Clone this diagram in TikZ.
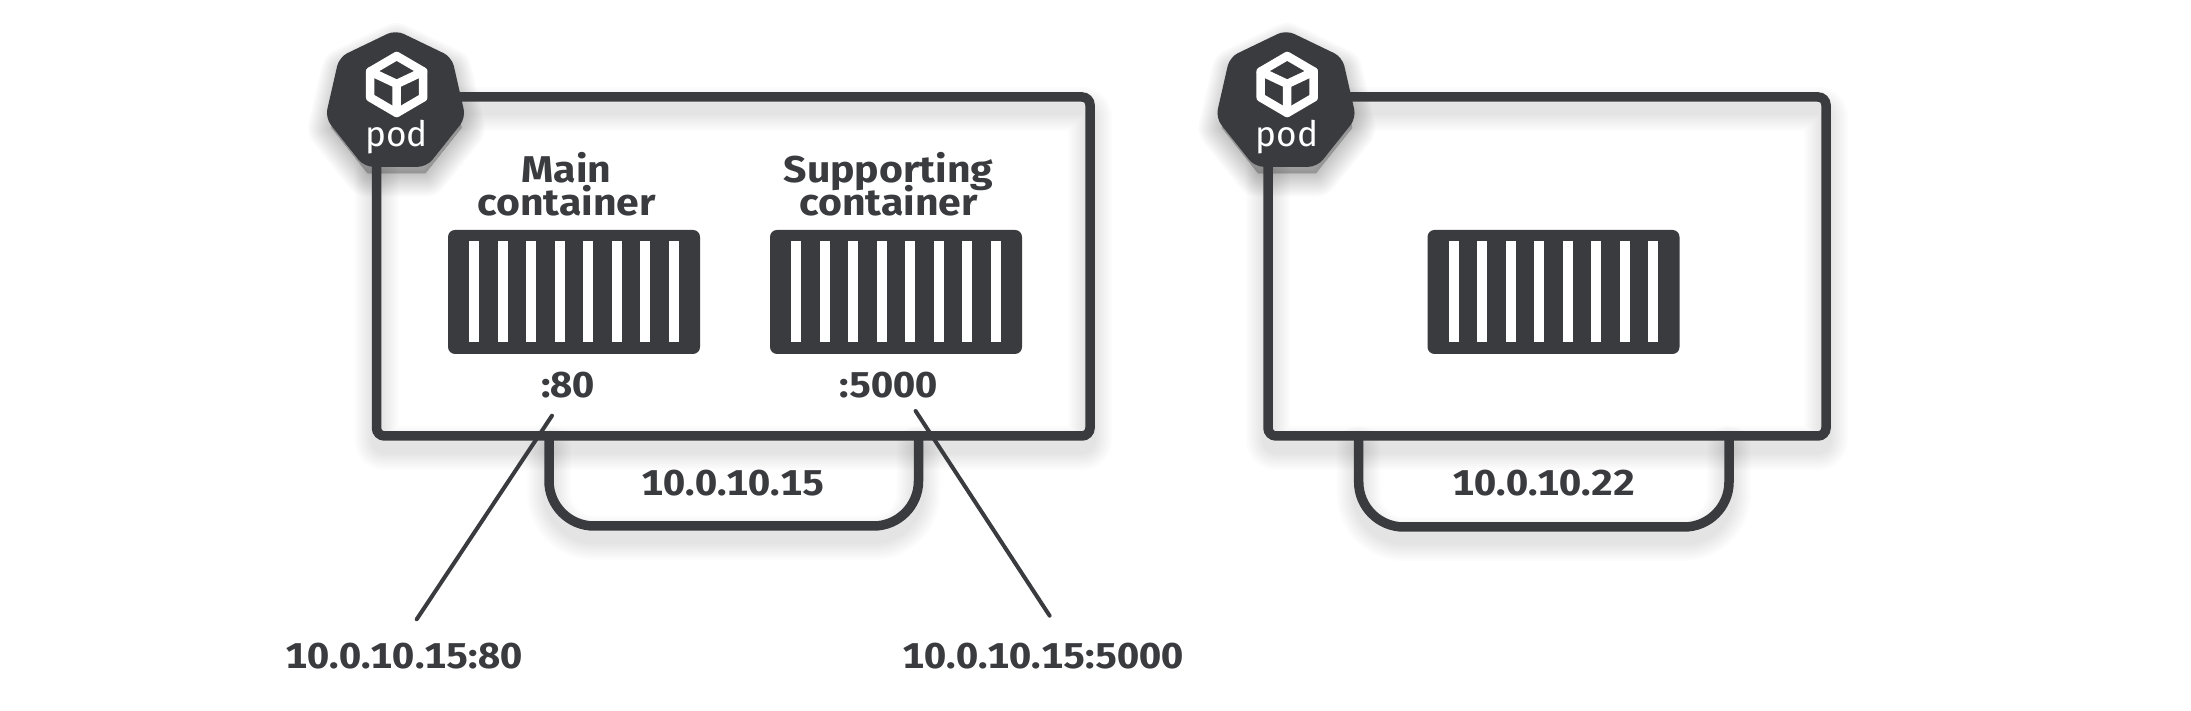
\documentclass[tikz,border=0pt]{standalone}
\usepackage{fontspec}
\setmainfont[Numbers=Monospaced]{Fira Sans}
\newfontfamily\widefont[FakeStretch=1.1,Numbers=Monospaced]{Fira Sans}
\usetikzlibrary{calc,shapes.geometric}
\definecolor{ink}{HTML}{3A3B3F}
\tikzset{
    boxline/.style={draw=ink, line width=.095cm},
    leader/.style={draw=ink, line width=.04cm, line cap=round},
    podbox/.style={boxline, rectangle, rounded corners=.08cm, inner sep=0pt, minimum height=3.39cm},
    podhept/.style={regular polygon, regular polygon sides=7, fill=ink, draw=none, rounded corners=.09cm, inner sep=0pt, minimum size=1.44cm},
    cubeline/.style={draw=white, line width=.085cm, line join=round, line cap=round},
    crate/.style={fill=ink, rectangle, rounded corners=.07cm, inner sep=0pt, minimum width=2.52cm, minimum height=1.24cm},
    stripe/.style={fill=white, rectangle, inner sep=0pt, minimum width=.096cm, minimum height=1.01cm},
    podname/.style={text=white, font=\fontsize{10}{10}\selectfont},
    addr/.style={text=ink, font=\widefont\fontsize{10.2}{10}\bfseries\selectfont, inner sep=0pt},
    heading/.style={addr, anchor=base, font=\widefont\fontsize{10.6}{10}\bfseries\selectfont},
}
% blurred strokes below a path
\newcommand{\softline}[1]{%
    \foreach \w in {.12,.16,.20,.24,.28,.32,.36,.40,.44}
        \draw[line width=\w cm, black, opacity=.011, line join=round, line cap=round, yshift=-.12cm] #1;
}
\newcommand{\softhept}[1]{%
    \foreach \w in {.02,.06,.10,.14,.18,.22,.26,.30,.34,.38,.42,.46}
        \node[regular polygon, regular polygon sides=7, draw=black, fill=black, line width=\w cm, opacity=.02, line join=round, inner sep=0pt, minimum size=1.34cm] at ($(#1)+(.01,-.11)$) {};
}
\begin{document}
\begin{tikzpicture}
    \useasboundingbox (0,0) rectangle (21.91,7.11);
    \fill[white] (0,0) rectangle (21.91,7.11);

    % shadows
    \softline{[rounded corners=.08cm] (3.765,2.75) rectangle (10.90,6.14)}
    \softline{[rounded corners=.08cm] (12.68,2.75) rectangle (18.26,6.14)}
    \softline{[rounded corners=.45cm] (5.49,2.75) -- (5.49,1.85) -- (9.185,1.85) -- (9.185,2.75)}
    \softline{[rounded corners=.45cm] (13.587,2.75) -- (13.587,1.84) -- (17.29,1.84) -- (17.29,2.75)}
    \coordinate (podshadowa) at (3.955,6.09);
    \coordinate (podshadowb) at (12.86,6.09);
    \softhept{podshadowa}
    \softhept{podshadowb}

    % first pod
    \node[podbox, minimum width=7.135cm] (boxa) at (7.3325,4.445) {};
    \draw[boxline, rounded corners=.45cm] (5.49,2.75) -- (5.49,1.85) -- (9.185,1.85) -- (9.185,2.75);
    \node[addr] (ipa) at (7.33,2.28) {10.0.10.15};

    \node[heading] (mainhead) at (5.667,5.28) {Main};
    \node[heading] (mainsub) at (5.667,4.955) {container};
    \node[heading] (supporthead) at (8.885,5.28) {Supporting};
    \node[heading] (supportsub) at (8.885,4.955) {container};
    \node[crate] (maincrate) at (5.74,4.19) {};
    \node[crate] (supportcrate) at (8.96,4.19) {};
    \node[addr] (mainport) at (5.68,3.26) {:80};
    \node[addr] (supportport) at (8.886,3.26) {:5000};

    \coordinate (maintop) at (5.52,2.953);
    \coordinate (mainend) at (4.167,.917);
    \coordinate (supporttop) at (9.156,3.0);
    \coordinate (supportend) at (10.496,.953);
    \draw[leader] (maintop) -- (mainend);
    \draw[leader] (supporttop) -- (supportend);
    \node[addr] (mainaddr) at (4.04,.55) {10.0.10.15:80};
    \node[addr] (supportaddr) at (10.43,.55) {10.0.10.15:5000};

    % second pod
    \node[podbox, minimum width=5.58cm] (boxb) at (15.47,4.445) {};
    \draw[boxline, rounded corners=.45cm] (13.587,2.75) -- (13.587,1.84) -- (17.29,1.84) -- (17.29,2.75);
    \node[addr] (ipb) at (15.44,2.28) {10.0.10.22};
    \node[crate] (solocrate) at (15.535,4.19) {};

    % stripes of the crates
    \foreach \crate in {maincrate,supportcrate,solocrate}
        \foreach \i in {0,...,7}
            \node[stripe] (\crate-\i) at ($(\crate)+({(\i-3.5)*.285},0)$) {};

    % badges, cube and name
    \foreach \hept/\hx in {hepta/3.955,heptb/12.86} {
        \node[podhept] (\hept) at (\hx,6.09) {};
        \node[podname] (\hept-name) at (\hx+.01,5.74) {pod};
        \begin{scope}[shift={(\hx+.012,0)}]
            \draw[cubeline] (0,6.55) -- (.265,6.395) -- (.265,6.135) -- (0,5.98) -- (-.265,6.135) -- (-.265,6.395) -- cycle;
            \draw[cubeline] (-.265,6.395) -- (0,6.27) -- (.265,6.395) (0,6.27) -- (0,5.98);
        \end{scope}
    }
\end{tikzpicture}
\end{document}
